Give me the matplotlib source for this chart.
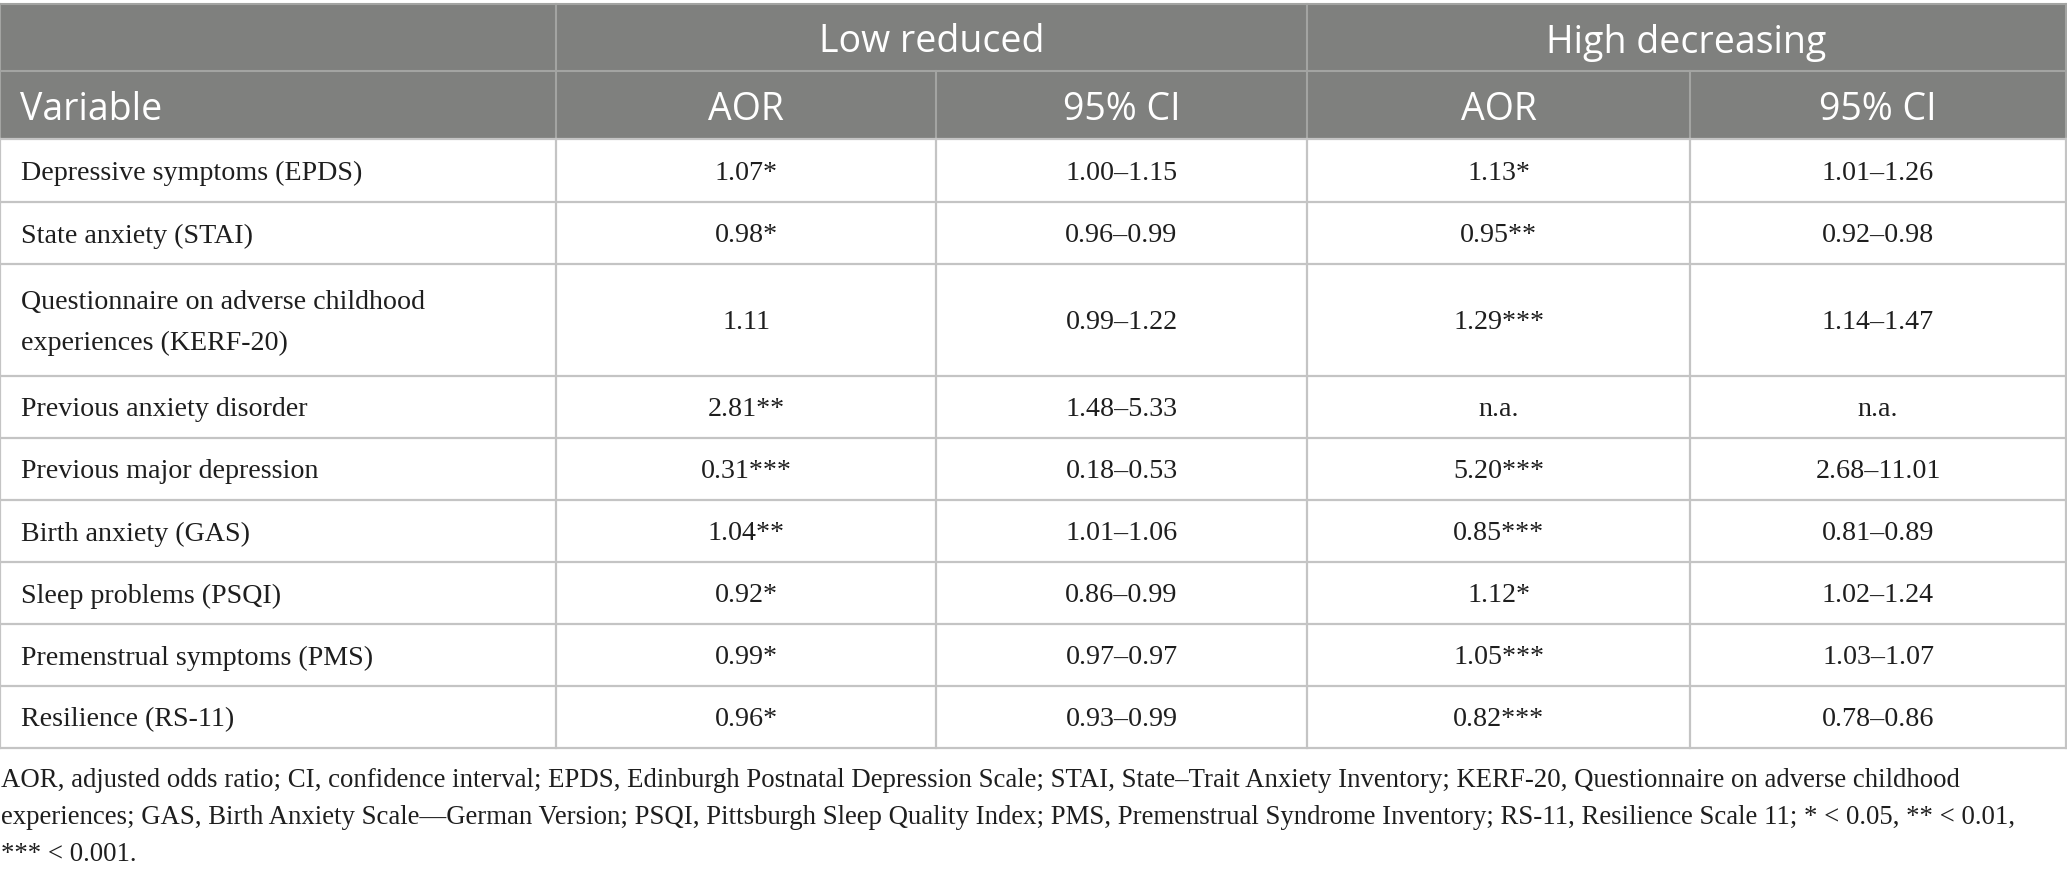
import matplotlib
matplotlib.use("Agg")
import matplotlib.pyplot as plt
from matplotlib.patches import Rectangle

# ---- data ----
groups = ["Low reduced", "High decreasing"]
col_headers = ["Variable", "AOR", "95% CI", "AOR", "95% CI"]
variables = [
    "Depressive symptoms (EPDS)",
    "State anxiety (STAI)",
    "Questionnaire on adverse childhood\nexperiences (KERF-20)",
    "Previous anxiety disorder",
    "Previous major depression",
    "Birth anxiety (GAS)",
    "Sleep problems (PSQI)",
    "Premenstrual symptoms (PMS)",
    "Resilience (RS-11)",
]
low_aor = ["1.07*", "0.98*", "1.11", "2.81**", "0.31***", "1.04**", "0.92*", "0.99*", "0.96*"]
low_ci = ["1.00–1.15", "0.96–0.99", "0.99–1.22", "1.48–5.33", "0.18–0.53", "1.01–1.06",
          "0.86–0.99", "0.97–0.97", "0.93–0.99"]
high_aor = ["1.13*", "0.95**", "1.29***", "n.a.", "5.20***", "0.85***", "1.12*", "1.05***", "0.82***"]
high_ci = ["1.01–1.26", "0.92–0.98", "1.14–1.47", "n.a.", "2.68–11.01", "0.81–0.89",
           "1.02–1.24", "1.03–1.07", "0.78–0.86"]
footnote_lines = [
    "AOR, adjusted odds ratio; CI, confidence interval; EPDS, Edinburgh Postnatal Depression Scale; "
    "STAI, State–Trait Anxiety Inventory; KERF-20, Questionnaire on adverse childhood",
    "experiences; GAS, Birth Anxiety Scale—German Version; PSQI, Pittsburgh Sleep Quality Index; "
    "PMS, Premenstrual Syndrome Inventory; RS-11, Resilience Scale 11; * < 0.05, ** < 0.01,",
    "*** < 0.001.",
]

# ---- layout (pixel coordinates) ----
W, H = 2067, 878
col_edges = [0, 556, 936, 1307, 1690, 2066]
head_edges = [5, 72, 140]
row_edges = [140, 203, 265, 377, 439, 501, 563, 625, 687, 749]

HEAD_BG = "#7f807e"
HEAD_LINE = "#a3a4a2"
BODY_LINE = "#c4c4c4"
TXT = "#1e1e1e"
SANS = ["Open Sans", "DejaVu Sans"]
SERIF = ["Liberation Serif", "DejaVu Serif"]
BODY_FS = 20.2
FOOT_FS = 19.3
HEAD_FS = 27

fig = plt.figure(figsize=(W / 100, H / 100), dpi=100)
ax = fig.add_axes([0, 0, 1, 1])
ax.set_xlim(0, W)
ax.set_ylim(H, 0)
ax.axis("off")

# header background
ax.add_patch(Rectangle((col_edges[0], head_edges[0]), col_edges[-1] - col_edges[0],
                       head_edges[-1] - head_edges[0], facecolor=HEAD_BG, edgecolor="none", zorder=1))

# header lines
ax.plot([col_edges[0], col_edges[-1]], [head_edges[0]] * 2, color=HEAD_LINE, lw=1.5, zorder=2)
ax.plot([col_edges[0], col_edges[-1]], [head_edges[1]] * 2, color=HEAD_LINE, lw=1.5, zorder=2)
for x in [col_edges[0], col_edges[1], col_edges[3], col_edges[-1]]:
    ax.plot([x, x], [head_edges[0], head_edges[2]], color=HEAD_LINE, lw=1.5, zorder=2)
for x in [col_edges[2], col_edges[4]]:
    ax.plot([x, x], [head_edges[1], head_edges[2]], color=HEAD_LINE, lw=1.5, zorder=2)

# body lines
for y in row_edges:
    ax.plot([col_edges[0], col_edges[-1]], [y, y], color=BODY_LINE, lw=1.6, zorder=2)
for x in col_edges:
    ax.plot([x, x], [row_edges[0], row_edges[-1]], color=BODY_LINE, lw=1.6, zorder=2)

# header text
HOFF = 4
group_spans = [(col_edges[1], col_edges[3]), (col_edges[3], col_edges[5])]
y1 = (head_edges[0] + head_edges[1]) / 2 + HOFF
for g, (a, b) in zip(groups, group_spans):
    ax.text((a + b) / 2, y1, g, ha="center", va="center", color="white",
            fontsize=HEAD_FS, family=SANS, zorder=3)
y2 = (head_edges[1] + head_edges[2]) / 2 + HOFF
for i, h in enumerate(col_headers):
    if i == 0:
        ax.text(col_edges[0] + 20, y2, h, ha="left", va="center", color="white",
                fontsize=HEAD_FS, family=SANS, zorder=3)
    else:
        ax.text((col_edges[i] + col_edges[i + 1]) / 2, y2, h, ha="center", va="center",
                color="white", fontsize=HEAD_FS, family=SANS, zorder=3)

# body text
BOFF = 2
columns = [low_aor, low_ci, high_aor, high_ci]
for r in range(len(variables)):
    yc = (row_edges[r] + row_edges[r + 1]) / 2 + BOFF
    ax.text(col_edges[0] + 21, yc, variables[r], ha="left", va="center", color=TXT,
            fontsize=BODY_FS, family=SERIF, linespacing=1.85, zorder=3)
    for c, vals in enumerate(columns):
        xc = (col_edges[c + 1] + col_edges[c + 2]) / 2
        ax.text(xc, yc, vals[r], ha="center", va="center", color=TXT,
                fontsize=BODY_FS, family=SERIF, zorder=3)

# footnote
foot_y = [781, 818, 855]
for y, line in zip(foot_y, footnote_lines):
    ax.text(1, y, line, ha="left", va="center", color=TXT, fontsize=FOOT_FS,
            family=SERIF, zorder=3)

fig.savefig("out.png", dpi=100, facecolor="white")
